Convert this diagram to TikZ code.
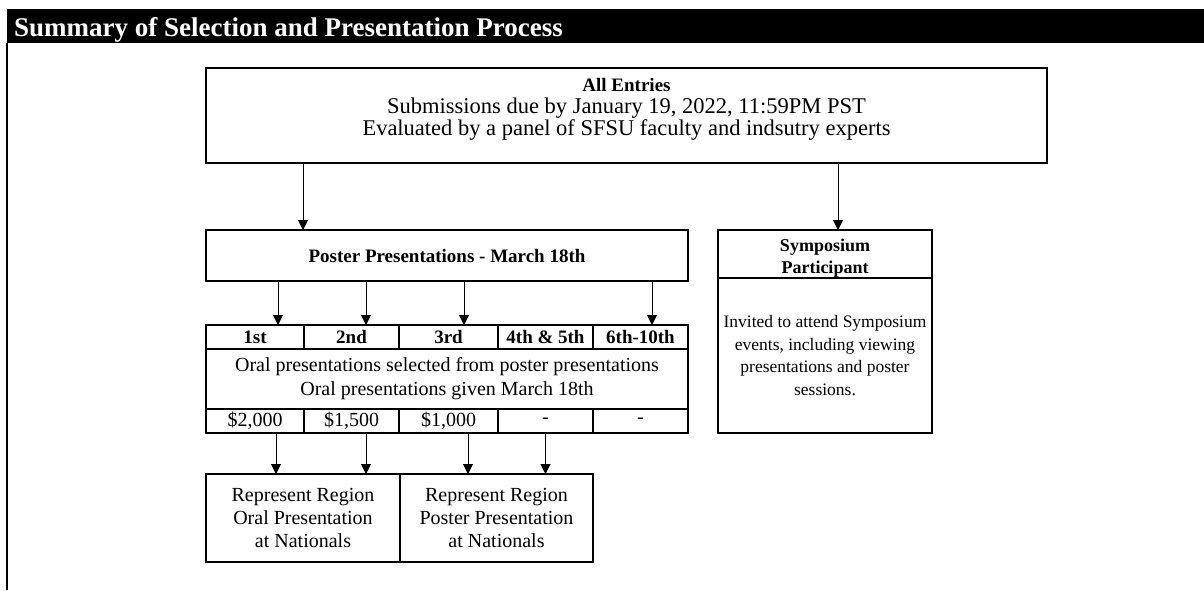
\documentclass[tikz,border=0pt]{standalone}
\usepackage{fontspec}
\setmainfont{Liberation Serif}
\usetikzlibrary{arrows.meta,positioning}
\tikzset{
  box/.style = {draw, line width=1.6pt, anchor=north west, outer sep=0pt,
    inner sep=0pt, align=center},
  headcell/.style = {box, minimum height=24pt,
    font=\fontsize{19}{22}\selectfont\bfseries},
  amtcell/.style = {box, minimum height=24pt,
    font=\fontsize{20}{22}\selectfont},
  arr/.style = {-{Triangle[length=10pt,width=10pt]}, line width=0.9pt}
}
\begin{document}
\begin{tikzpicture}[x=1pt, y=-1pt]
  \useasboundingbox (0,0) rectangle (1204,590);
  % banner
  \fill (7,9) rectangle (1204,43);
  \node[anchor=base west, text=white, inner sep=0pt,
    font=\fontsize{27}{30}\selectfont\bfseries] (title) at (14,36)
    {Summary of Selection and Presentation Process};
  \draw[line width=2pt] (7,43) -- (7,590);

  % all entries
  \node[box, minimum width=841pt, minimum height=95pt] (entries) at (206,68) {};
  \node[anchor=north, inner sep=0pt, align=center,
    font=\fontsize{22.5}{22}\selectfont] (entriestxt)
    at ([yshift=-10pt]entries.north)
    {{\fontsize{19}{22}\selectfont\bfseries All Entries}\\
     Submissions due by January 19, 2022, 11:59PM PST\\
     Evaluated by a panel of SFSU faculty and indsutry experts};

  % poster presentations
  \node[box, minimum width=482pt, minimum height=51pt,
    font=\fontsize{19}{22}\selectfont\bfseries] (poster) at (206,230)
    {Poster Presentations - March 18th};

  % placings table
  \node[headcell, minimum width=98pt] (h1) at (206,325) {1st};
  \node[headcell, minimum width=95pt, right=0pt of h1] (h2) {2nd};
  \node[headcell, minimum width=99pt, right=0pt of h2] (h3) {3rd};
  \node[headcell, minimum width=95pt, right=0pt of h3] (h4) {4th \& 5th};
  \node[headcell, minimum width=95pt, right=0pt of h4] (h5) {6th-10th};
  \node[box, minimum width=482pt, minimum height=60pt,
    font=\fontsize{20}{24}\selectfont] (oral) at (h1.south west)
    {Oral presentations selected from poster presentations\\
     Oral presentations given March 18th};
  \node[amtcell, minimum width=98pt] (a1) at (oral.south west) {\$2,000};
  \node[amtcell, minimum width=95pt, right=0pt of a1] (a2) {\$1,500};
  \node[amtcell, minimum width=99pt, right=0pt of a2] (a3) {\$1,000};
  \node[amtcell, minimum width=95pt, right=0pt of a3] (a4) {-};
  \node[amtcell, minimum width=95pt, right=0pt of a4] (a5) {-};

  % nationals
  \node[box, minimum width=194pt, minimum height=88pt,
    font=\fontsize{20}{23}\selectfont] (natoral) at (206,474)
    {Represent Region\\Oral Presentation\\at Nationals};
  \node[box, minimum width=193pt, minimum height=88pt,
    font=\fontsize{20}{23}\selectfont, right=0pt of natoral] (natposter)
    {Represent Region\\Poster Presentation\\at Nationals};

  % symposium
  \node[box, minimum width=214pt, minimum height=48pt] (symphead) at (718,230) {};
  \node[inner sep=0pt, align=center, font=\fontsize{18}{22}\selectfont\bfseries]
    (symptxt) at ([yshift=-4pt]symphead.center) {Symposium\\Participant};
  \node[box, minimum width=214pt, minimum height=155pt,
    font=\fontsize{17.5}{22.5}\selectfont] (sympbody) at (symphead.south west)
    {Invited to attend Symposium\\events, including viewing\\
     presentations and poster\\sessions.};

  % connectors
  \coordinate (p1) at ([xshift=23pt]h1.north);
  \coordinate (p2) at ([xshift=14.5pt]h2.north);
  \coordinate (p3) at ([xshift=15.5pt]h3.north);
  \coordinate (p5) at ([xshift=11.5pt]h5.north);
  \coordinate (p6) at ([xshift=120pt]symphead.north west);
  \coordinate (q1) at ([xshift=21pt]a1.south);
  \coordinate (q2) at ([xshift=14.5pt]a2.south);
  \coordinate (q3) at ([xshift=19.5pt]a3.south);
  \coordinate (q4) at (a4.south);
  \draw[arr] ([xshift=97pt]entries.south west) -- ([xshift=97pt]poster.north west);
  \draw[arr] (entries.south -| p6) -- (p6);
  \foreach \p in {p1,p2,p3,p5}
    \draw[arr] (poster.south -| \p) -- (\p);
  \draw[arr] (q1) -- (q1 |- natoral.north);
  \draw[arr] (q2) -- (q2 |- natoral.north);
  \draw[arr] (q3) -- (q3 |- natposter.north);
  \draw[arr] (q4) -- (q4 |- natposter.north);
\end{tikzpicture}
\end{document}
